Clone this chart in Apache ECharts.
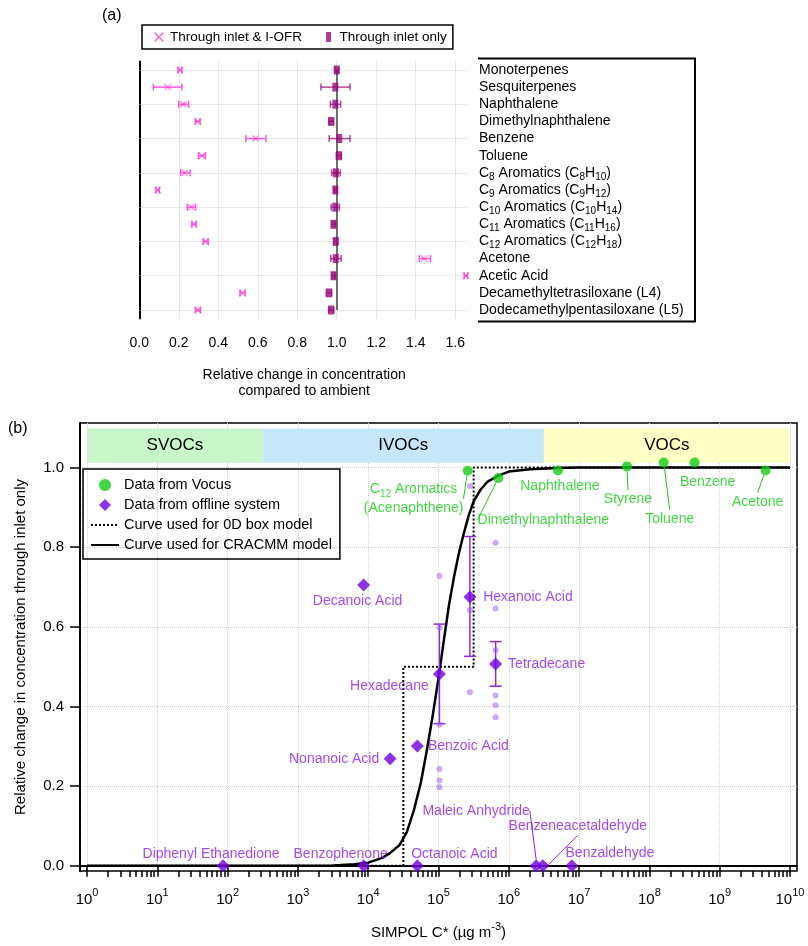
<!DOCTYPE html>
<html>
<head>
<meta charset="utf-8">
<script src="https://cdn.jsdelivr.net/npm/echarts@6/dist/echarts.min.js"></script>
<style>
  html, body { margin: 0; padding: 0; background: #fff; }
  #chart { width: 808px; height: 946px; }
</style>
</head>
<body>
<div id="chart"></div>
<script>
const FONT = '"Liberation Sans", Arial, sans-serif';

// ---------- panel (a) data ----------
const compounds = [
  'Monoterpenes', 'Sesquiterpenes', 'Naphthalene', 'Dimethylnaphthalene', 'Benzene', 'Toluene',
  'C8 Aromatics (C8H10)', 'C9 Aromatics (C9H12)', 'C10 Aromatics (C10H14)', 'C11 Aromatics (C11H16)',
  'C12 Aromatics (C12H18)', 'Acetone', 'Acetic Acid', 'Decamethyltetrasiloxane (L4)', 'Dodecamethylpentasiloxane (L5)'
];
const ofrMean  = [0.206, 0.144, 0.223, 0.296, 0.589, 0.317, 0.231, 0.093, 0.263, 0.277, 0.336, 1.443, 1.654, 0.523, 0.297];
const ofrLow   = [0.196, 0.071, 0.200, 0.284, 0.540, 0.300, 0.210, 0.085, 0.243, 0.266, 0.323, 1.418, 1.646, 0.510, 0.284];
const ofrHigh  = [0.216, 0.216, 0.250, 0.308, 0.641, 0.335, 0.257, 0.101, 0.285, 0.288, 0.349, 1.475, 1.662, 0.536, 0.310];
const inletMean = [1.000, 0.993, 0.993, 0.972, 1.013, 1.011, 0.996, 0.993, 0.993, 0.984, 0.995, 0.995, 0.984, 0.961, 0.972];
const inletLow  = [0.990, 0.920, 0.968, 0.960, 0.962, 0.998, 0.975, 0.987, 0.972, 0.976, 0.986, 0.970, 0.976, 0.947, 0.959];
const inletHigh = [1.010, 1.067, 1.020, 0.984, 1.067, 1.024, 1.018, 0.999, 1.014, 0.992, 1.004, 1.022, 0.992, 0.975, 0.985];
const aTicks = [0, 0.2, 0.4, 0.6, 0.8, 1.0, 1.2, 1.4, 1.6];

// ---------- panel (b) data ----------
const vocusNames = ['C12 Aromatics (Acenaphthene)', 'Dimethylnaphthalene', 'Naphthalene', 'Styrene', 'Toluene', 'Benzene', 'Acetone'];
const vocusC     = [2.6e5, 7.1e5, 5.0e6, 4.8e7, 1.6e8, 4.4e8, 4.5e9];
const vocusFrac  = [0.992, 0.974, 0.993, 1.003, 1.013, 1.013, 0.993];

const offlineNames = ['Diphenyl Ethanedione', 'Benzophenone', 'Decanoic Acid', 'Nonanoic Acid', 'Octanoic Acid', 'Benzoic Acid',
  'Hexadecane', 'Hexanoic Acid', 'Tetradecane', 'Maleic Anhydride', 'Benzeneacetaldehyde', 'Benzaldehyde'];
const offlineC    = [86, 8.6e3, 8.6e3, 2.05e4, 5.0e4, 5.0e4, 1.03e5, 2.8e5, 6.5e5, 2.45e6, 3.05e6, 7.9e6];
const offlineFrac = [0, 0, 0.705, 0.269, 0, 0.301, 0.482, 0.675, 0.507, 0, 0, 0];

const errC    = [1.03e5, 2.8e5, 6.5e5];
const errLow  = [0.357, 0.526, 0.451];
const errHigh = [0.607, 0.827, 0.563];

// individual replicate measurements
const repC    = [1.03e5, 1.03e5, 1.03e5, 1.03e5, 1.03e5, 1.03e5, 2.8e5, 2.8e5, 2.8e5, 6.5e5, 6.5e5, 6.5e5, 6.5e5, 6.5e5, 6.5e5];
const repFrac = [0.728, 0.598, 0.354, 0.243, 0.214, 0.197, 0.954, 0.642, 0.436, 0.811, 0.646, 0.542, 0.428, 0.403, 0.373];

// curves
const cracmmC = [1, 3.16e3, 6.3e3, 1e4, 1.58e4, 2.04e4, 2.82e4, 3.55e4, 4.47e4, 5.62e4, 6.76e4, 8.32e4, 1.02e5,
  1.2e5, 1.41e5, 1.66e5, 1.95e5, 2.29e5, 2.69e5, 3.16e5, 3.98e5, 5.01e5, 7.08e5, 1e6, 2e6, 5e6, 1e7, 1e10];
const cracmmFrac = [0, 0.001, 0.004, 0.008, 0.02, 0.032, 0.053, 0.085, 0.14, 0.21, 0.286, 0.38, 0.482,
  0.57, 0.655, 0.725, 0.785, 0.835, 0.88, 0.915, 0.945, 0.965, 0.98, 0.99, 0.996, 0.999, 1, 1];
const boxC    = [1, 3.16e4, 3.16e4, 3.16e5, 3.16e5, 1e10];
const boxFrac = [0, 0, 0.5, 0.5, 1, 1];

const classNames = ['SVOCs', 'IVOCs', 'VOCs'];
const classFrom  = [1, 316, 3.16e6];
const classTo    = [316, 3.16e6, 1e10];
const decades = [1, 1e1, 1e2, 1e3, 1e4, 1e5, 1e6, 1e7, 1e8, 1e9, 1e10];
const fracTicks = [0, 0.2, 0.4, 0.6, 0.8, 1.0];

// ---------- styles ----------
const PINK = '#ff3fcf', MAGENTA = '#990a7a';
const GREEN = '#14cc14', VIOLET = '#7000e0', VIOLET_TXT = '#8a1cf0';
const bandColors = ['#c8f6c8', '#c6e7fa', '#ffffc6'];
const minorTicks = [];
decades.slice(0, -1).forEach(d => { for (let k = 2; k < 10; k++) minorTicks.push(k * d); });

// label offsets [dx, dy, leader line]
const labelPos = {
  'C12 Aromatics (Acenaphthene)': [-54, 28, true],
  'Dimethylnaphthalene': [45, 42, true],
  'Naphthalene': [2, 16, false],
  'Styrene': [1, 33, true],
  'Toluene': [6, 57, true],
  'Benzene': [13, 20, false],
  'Acetone': [-8, 32, true],
  'Diphenyl Ethanedione': [-12, -12, false],
  'Benzophenone': [-23, -12, false],
  'Decanoic Acid': [-6, 16, false],
  'Nonanoic Acid': [-56, 0, false],
  'Octanoic Acid': [37, -12, false],
  'Benzoic Acid': [51, 0, false],
  'Hexadecane': [-50, 12, false],
  'Hexanoic Acid': [58, 0, false],
  'Tetradecane': [51, 0, false],
  'Maleic Anhydride': [-60, -55, true],
  'Benzeneacetaldehyde': [35, -40, true],
  'Benzaldehyde': [38, -13, false]
};

const subText = s => s.replace(/([CH])(\d+)/g, '$1{sub|$2}');
const supLabel = v => '{b|10}{sup|' + Math.round(Math.log10(v)) + '}';

function hBar(color) {
  return function (params, api) {
    const y = api.value(2);
    const a = api.coord([api.value(0), y]);
    const b = api.coord([api.value(1), y]);
    const h = 3.5;
    const style = { stroke: color, lineWidth: 1.5 };
    return { type: 'group', children: [
      { type: 'line', shape: { x1: a[0], y1: a[1], x2: b[0], y2: b[1] }, style },
      { type: 'line', shape: { x1: a[0], y1: a[1] - h, x2: a[0], y2: a[1] + h }, style },
      { type: 'line', shape: { x1: b[0], y1: b[1] - h, x2: b[0], y2: b[1] + h }, style }
    ]};
  };
}
function vBar(color) {
  return function (params, api) {
    const a = api.coord([api.value(0), api.value(1)]);
    const b = api.coord([api.value(0), api.value(2)]);
    const w = 6;
    const style = { stroke: color, lineWidth: 1.5 };
    return { type: 'group', children: [
      { type: 'line', shape: { x1: a[0], y1: a[1], x2: b[0], y2: b[1] }, style },
      { type: 'line', shape: { x1: a[0] - w, y1: a[1], x2: a[0] + w, y2: a[1] }, style },
      { type: 'line', shape: { x1: b[0] - w, y1: b[1], x2: b[0] + w, y2: b[1] }, style }
    ]};
  };
}

const X_PATH = 'path://M0,1L1,0L5,4L9,0L10,1L6,5L10,9L9,10L5,6L1,10L0,9L4,5Z';
const BAR_PATH = 'path://M0,0L5,0L5,10L0,10Z';
const DIAMOND_PATH = 'path://M5,0L10,5L5,10L0,5Z';
const NO_MARK = { color: 'rgba(0,0,0,0)', borderWidth: 0 };

function pointLabels(names, color) {
  return {
    label: {
      show: true, position: 'inside', color: color, fontSize: 14, fontFamily: FONT, lineHeight: 19,
      formatter: p => p.name === 'C12 Aromatics (Acenaphthene)' ? 'C{sub|12} Aromatics\n(Acenaphthene)' : p.name,
      rich: { sub: { fontSize: 10, verticalAlign: 'bottom', lineHeight: 10, color: color, fontFamily: FONT } }
    },
    labelLine: { show: false, lineStyle: { color: color, width: 1 } },
    labelLayout: p => { const o = labelPos[names[p.dataIndex]]; return { dx: o[0], dy: o[1] }; }
  };
}

const option = {
  animation: false,
  textStyle: { fontFamily: FONT },
  graphic: [
    { type: 'text', left: 102, top: 8, style: { text: '(a)', fontSize: 16, fontFamily: FONT, fill: '#000' } },
    { type: 'text', left: 8, top: 421, style: { text: '(b)', fontSize: 16, fontFamily: FONT, fill: '#000' } },
    { type: 'line', shape: { x1: 478, y1: 58.5, x2: 694, y2: 58.5 }, style: { stroke: '#000', lineWidth: 2 } },
    { type: 'line', shape: { x1: 478, y1: 321.5, x2: 694, y2: 321.5 }, style: { stroke: '#000', lineWidth: 2 } },
    { type: 'line', shape: { x1: 695, y1: 57.5, x2: 695, y2: 322.5 }, style: { stroke: '#000', lineWidth: 2 } }
  ],
  legend: [
    {
      left: 142, top: 25, orient: 'horizontal',
      padding: [5, 6, 5, 12], itemGap: 24, itemWidth: 12, itemHeight: 10,
      borderColor: '#000', borderWidth: 1.5,
      textStyle: { fontSize: 13.5, color: '#000', fontFamily: FONT },
      data: [
        { name: 'Through inlet & I-OFR', icon: X_PATH },
        { name: 'Through inlet only', icon: BAR_PATH }
      ]
    },
    {
      left: 83, top: 469, orient: 'vertical',
      padding: [8, 8, 6, 7], itemGap: 4, itemWidth: 28, itemHeight: 12,
      borderColor: '#000', borderWidth: 1.5,
      textStyle: { fontSize: 14.5, color: '#000', fontFamily: FONT, lineHeight: 16 },
      data: [
        { name: 'Data from Vocus', icon: 'circle' },
        { name: 'Data from offline system', icon: DIAMOND_PATH },
        { name: 'Curve used for 0D box model', itemStyle: NO_MARK },
        { name: 'Curve used for CRACMM model', itemStyle: NO_MARK }
      ]
    }
  ],
  grid: [
    { left: 139.3, right: 339, top: 61.4, bottom: 946 - 318.6 },
    { left: 80, right: 11, top: 423, bottom: 73, show: true, borderColor: '#000', borderWidth: 1.5 }
  ],
  xAxis: [
    {
      gridIndex: 0, type: 'value', min: 0, max: 1.67, position: 'bottom', offset: 3,
      name: 'Relative change in concentration\ncompared to ambient', nameLocation: 'middle', nameGap: 46,
      nameTextStyle: { fontSize: 14, color: '#000', lineHeight: 16, fontFamily: FONT },
      axisLine: { lineStyle: { color: '#000', width: 2 } },
      axisTick: { customValues: aTicks, length: 8, lineStyle: { color: '#000', width: 2 } },
      axisLabel: { customValues: aTicks, formatter: v => v.toFixed(1), fontSize: 14, color: '#000', margin: 15 },
      splitLine: { show: true, lineStyle: { color: '#cfcfcf', type: 'dotted' } }
    },
    {
      gridIndex: 0, type: 'value', min: 0, max: 1.67, position: 'top', offset: 3,
      axisLine: { lineStyle: { color: '#000', width: 2 } },
      axisTick: { show: false }, axisLabel: { show: false }, splitLine: { show: false }
    },
    {
      gridIndex: 1, type: 'log', logBase: 10, min: 0.794, max: 1.259e10, position: 'bottom',
      name: 'SIMPOL C* (\u00b5g m{sup|-3})', nameLocation: 'middle', nameGap: 50,
      nameTextStyle: { fontSize: 15, color: '#000', fontFamily: FONT, lineHeight: 24,
        rich: { sup: { fontSize: 11, verticalAlign: 'top', lineHeight: 12 } } },
      axisLine: { lineStyle: { color: '#000', width: 2 } },
      axisTick: { customValues: decades, length: 11, lineStyle: { color: '#000', width: 1.5 } },
      axisLabel: { customValues: decades, formatter: supLabel, color: '#000', margin: 16,
        rich: { b: { fontSize: 15, lineHeight: 26, fontFamily: FONT }, sup: { fontSize: 11, verticalAlign: 'top', lineHeight: 12, fontFamily: FONT } } },
      splitLine: { show: true, lineStyle: { color: '#d0d0d0', type: 'dotted' } }
    },
    {
      gridIndex: 1, type: 'log', logBase: 10, min: 0.794, max: 1.259e10, position: 'bottom',
      axisLine: { show: false },
      axisTick: { customValues: minorTicks, length: 6, lineStyle: { color: '#000', width: 1.5 } },
      axisLabel: { show: false }, splitLine: { show: false }
    }
  ],
  yAxis: [
    {
      gridIndex: 0, type: 'category', data: compounds, inverse: true, position: 'left', offset: 7.6,
      axisLine: { lineStyle: { color: '#000', width: 2 } },
      axisTick: { inside: true, alignWithLabel: true, interval: 1, length: 5, lineStyle: { color: '#000', width: 1.5 } },
      axisLabel: { show: false }, splitLine: { show: false }
    },
    {
      gridIndex: 0, type: 'category', data: compounds, inverse: true, position: 'right',
      axisLine: { show: false }, axisTick: { show: false }, splitLine: { show: false },
      axisLabel: { interval: 0, margin: 10, fontSize: 14, color: '#000', formatter: subText, lineHeight: 18,
        rich: { sub: { fontSize: 10, verticalAlign: 'bottom', lineHeight: 10, fontFamily: FONT } } }
    },
    {
      gridIndex: 1, type: 'value', min: -0.013, max: 1.112,
      name: 'Relative change in concentration through inlet only', nameLocation: 'middle', nameGap: 52,
      nameTextStyle: { fontSize: 15, color: '#000', fontFamily: FONT },
      axisLine: { lineStyle: { color: '#000', width: 2 } },
      axisTick: { customValues: fracTicks, length: 10, lineStyle: { color: '#000', width: 1.5 } },
      axisLabel: { customValues: fracTicks, formatter: v => v.toFixed(1), fontSize: 15, color: '#000', margin: 16 },
      splitLine: { show: true, lineStyle: { color: '#d0d0d0', type: 'dotted' } }
    }
  ],
  series: [
    // ----- panel (a) -----
    {
      type: 'custom', name: 'ofrErr', xAxisIndex: 0, yAxisIndex: 0, renderItem: hBar('#ff55d8'),
      encode: { x: [0, 1], y: 2 }, z: 3,
      data: compounds.map((c, i) => [ofrLow[i], ofrHigh[i], i])
    },
    {
      type: 'scatter', name: 'Through inlet & I-OFR', xAxisIndex: 0, yAxisIndex: 0, z: 4,
      symbol: X_PATH, symbolSize: 7, itemStyle: { color: PINK },
      data: compounds.map((c, i) => [ofrMean[i], i]),
      markLine: {
        silent: true, symbol: 'none', z: 1, label: { show: false },
        lineStyle: { color: '#cfcfcf', type: 'dotted', width: 1 },
        data: compounds.filter((c, i) => i % 2 === 0).map(c => ({ yAxis: c }))
      }
    },
    {
      type: 'custom', name: 'inletErr', xAxisIndex: 0, yAxisIndex: 0, renderItem: hBar('rgba(153,10,122,0.75)'),
      encode: { x: [0, 1], y: 2 }, z: 3,
      data: compounds.map((c, i) => [inletLow[i], inletHigh[i], i])
    },
    {
      type: 'scatter', name: 'Through inlet only', xAxisIndex: 0, yAxisIndex: 0, z: 4,
      symbol: 'rect', symbolSize: [6, 9], itemStyle: { color: MAGENTA },
      data: compounds.map((c, i) => [inletMean[i], i]),
      markLine: {
        silent: true, symbol: 'none', z: 2, label: { show: false },
        lineStyle: { color: '#444', type: 'solid', width: 1.5 },
        data: [[{ coord: [1, compounds[0]] }, { coord: [1, compounds[compounds.length - 1]] }]]
      }
    },
    // ----- panel (b) -----
    {
      type: 'line', name: 'bands', xAxisIndex: 2, yAxisIndex: 2, z: 1, data: [],
      markArea: {
        silent: true,
        label: { show: true, position: 'inside', fontSize: 17, color: '#000', fontFamily: FONT },
        data: classNames.map((n, i) => [
          { name: n, xAxis: classFrom[i], yAxis: 1.012, itemStyle: { color: bandColors[i] } },
          { xAxis: classTo[i], yAxis: 1.098 }
        ])
      }
    },
    {
      type: 'line', name: 'Curve used for 0D box model', xAxisIndex: 2, yAxisIndex: 2, z: 2,
      symbol: 'none', lineStyle: { color: '#000', width: 2, type: 'dotted' }, itemStyle: { color: '#000' },
      data: boxC.map((c, i) => [c, boxFrac[i]])
    },
    {
      type: 'line', name: 'Curve used for CRACMM model', xAxisIndex: 2, yAxisIndex: 2, z: 3,
      symbol: 'none', smooth: false,
      lineStyle: { color: '#000', width: 2.5, join: 'round' }, itemStyle: { color: '#000' },
      data: cracmmC.map((c, i) => [c, cracmmFrac[i]])
    },
    {
      type: 'scatter', name: 'replicates', xAxisIndex: 2, yAxisIndex: 2, z: 4,
      symbol: 'circle', symbolSize: 6, itemStyle: { color: 'rgba(160,90,235,0.65)' },
      data: repC.map((c, i) => [c, repFrac[i]])
    },
    {
      type: 'custom', name: 'offlineErr', xAxisIndex: 2, yAxisIndex: 2, renderItem: vBar('#8a2be2'),
      encode: { x: 0, y: [1, 2] }, z: 4,
      data: errC.map((c, i) => [c, errLow[i], errHigh[i]])
    },
    Object.assign({
      type: 'scatter', name: 'Data from offline system', xAxisIndex: 2, yAxisIndex: 2, z: 5,
      symbol: 'diamond', symbolSize: 13, itemStyle: { color: VIOLET },
      data: offlineNames.map((n, i) => ({ name: n, value: [offlineC[i], offlineFrac[i]], labelLine: { show: labelPos[n][2] } }))
    }, pointLabels(offlineNames, VIOLET_TXT)),
    Object.assign({
      type: 'scatter', name: 'Data from Vocus', xAxisIndex: 2, yAxisIndex: 2, z: 5,
      symbol: 'circle', symbolSize: 10, itemStyle: { color: GREEN },
      data: vocusNames.map((n, i) => ({ name: n, value: [vocusC[i], vocusFrac[i]], labelLine: { show: labelPos[n][2] } }))
    }, pointLabels(vocusNames, GREEN))
  ]
};

const chart = echarts.init(document.getElementById('chart'), null, { renderer: 'canvas' });
chart.setOption(option);
</script>
</body>
</html>
